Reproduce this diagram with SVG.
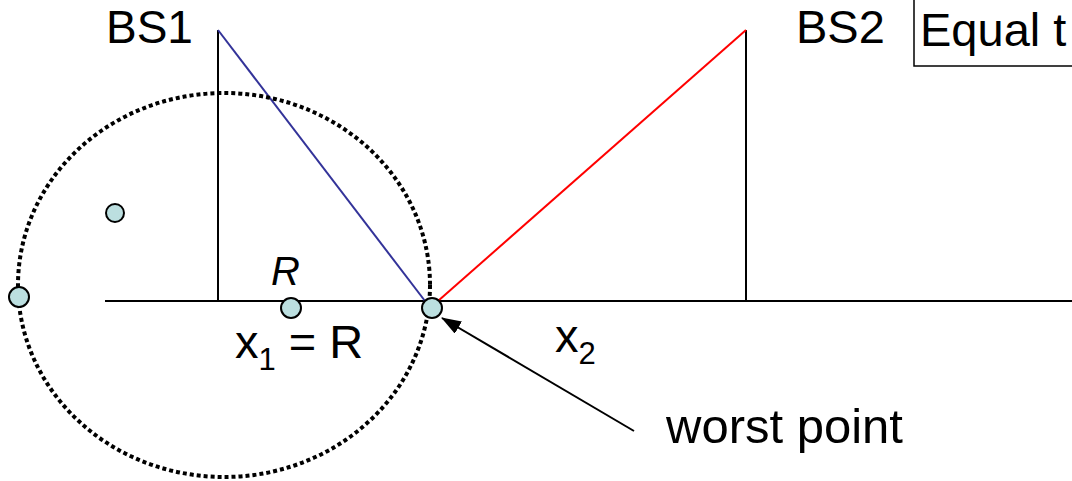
<svg xmlns="http://www.w3.org/2000/svg" width="1072" height="481" viewBox="0 0 1072 481">
<style>
text{font-family:"Liberation Sans",Arial,sans-serif;font-size:47px;fill:#000}
.node{fill:#bcdfe0;stroke:#000;stroke-width:2}
.ln{stroke:#000;stroke-width:2;fill:none}
</style>
<defs>
<marker id="ah" markerWidth="20" markerHeight="14" refX="19" refY="7" orient="auto" markerUnits="userSpaceOnUse" viewBox="0 0 20 14">
<path d="M0,0 L20,7 L0,14 z" fill="#000"/>
</marker>
</defs>
<rect width="1072" height="481" fill="#fff"/>
<g id="connectors">
<line class="ln" x1="105" y1="301" x2="1072" y2="301"/>
<line class="ln" x1="218" y1="30" x2="218" y2="301"/>
<line class="ln" x1="746" y1="30" x2="746" y2="301"/>
<line x1="218" y1="30" x2="425" y2="301" stroke="#333399" stroke-width="2"/>
<line x1="746" y1="30" x2="438" y2="301" stroke="#ff0000" stroke-width="2"/>
<ellipse cx="224" cy="285" rx="206" ry="192" fill="none" stroke="#000" stroke-width="4" stroke-dasharray="4 3"/>
<line class="ln" x1="634" y1="431" x2="442" y2="318" marker-end="url(#ah)"/>
</g>
<g id="box">
<rect x="914" y="-5" width="170" height="71" fill="#fff" stroke="#000" stroke-width="1.5"/>
<text x="920" y="46">Equal t</text>
</g>
<g id="bs1"><text x="106" y="43" style="font-size:46px">BS1</text></g>
<g id="bs2"><text x="796" y="43">BS2</text></g>
<g id="n1"><circle class="node" cx="115" cy="213" r="9"/></g>
<g id="n2"><circle class="node" cx="19" cy="297" r="10"/></g>
<g id="n3"><circle class="node" cx="291" cy="308" r="10"/></g>
<g id="n4"><circle class="node" cx="432" cy="308" r="10"/></g>
<g id="lblR"><text x="271" y="285" font-style="italic" style="font-size:40px">R</text></g>
<g id="lblx1"><text x="235" y="358">x<tspan font-size="31" dy="12">1</tspan><tspan dy="-12"> = R</tspan></text></g>
<g id="lblx2"><text x="555" y="352">x<tspan font-size="31" dy="12">2</tspan></text></g>
<g id="worst"><text x="666" y="443" style="font-size:49px">worst point</text></g>
</svg>
